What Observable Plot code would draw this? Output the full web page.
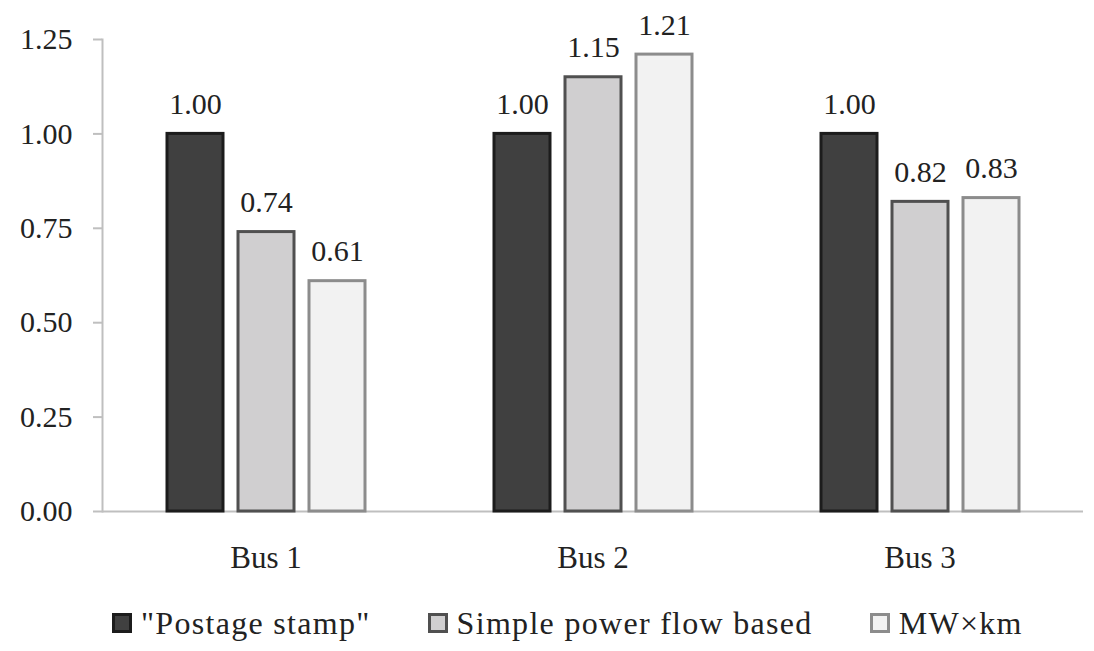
<!DOCTYPE html>
<html><head><meta charset="utf-8">
<script src="https://cdn.jsdelivr.net/npm/d3@7"></script>
<script src="https://cdn.jsdelivr.net/npm/@observablehq/plot@0.6"></script>
<style>
body{margin:0;background:#fff;font-family:"Liberation Serif",serif;color:#222;}
#legend{display:flex;align-items:center;height:50px;padding-left:112px;margin-top:8px;}
.item{display:flex;align-items:center;margin-right:57px;}
.sw{width:14px;height:14px;border:3px solid #000;margin-right:9px;}
.lab{font-size:32px;letter-spacing:1.3px;line-height:40px;}
</style>
</head><body><div id="chart"></div><div id="legend"></div>
<script>
const buses = ["Bus 1", "Bus 2", "Bus 3"];
const methods = ['"Postage stamp"', "Simple power flow based", "MW×km"];
const postage = [1.00, 1.00, 1.00];
const simpleFlow = [0.74, 1.15, 0.82];
const mwkm = [0.61, 1.21, 0.83];
const yTicks = [0, 0.25, 0.5, 0.75, 1, 1.25];
const fills = ["#404040", "#d0cfd0", "#f2f2f2"];
const strokes = ["#1c1c1c", "#505050", "#8c8c8c"];

const series = [postage, simpleFlow, mwkm];
const data = buses.flatMap((b, i) => methods.map((m, j) => ({bus: b, method: m, value: series[j][i]})));
const mi = d => methods.indexOf(d.method);

const chart = Plot.plot({
  width: 1094, height: 590,
  marginLeft: 101, marginRight: 11, marginTop: 39, marginBottom: 79,
  style: {fontFamily: "Liberation Serif", fontSize: "30px", color: "#222", background: "#fff"},
  fx: {domain: buses, padding: 0, label: null, axis: null},
  x: {domain: methods, paddingInner: 0.215, paddingOuter: 0.88, axis: null},
  y: {domain: [0, 1.25], axis: null},
  color: {type: "identity"},
  marks: [
    Plot.frame({anchor: "left", facet: "super", stroke: "#bfbfbf", strokeWidth: 2}),
    Plot.axisY({ticks: yTicks, tickFormat: d3.format(".2f"), tickSize: 9, tickPadding: 21,
      stroke: "#bfbfbf", strokeOpacity: 1, fill: "#222", strokeWidth: 2, label: null}),
    Plot.axisFx({anchor: "bottom", tickSize: 0, tickPadding: 34, label: null, fill: "#222", fontSize: 31}),
    Plot.ruleY([0], {stroke: "#bfbfbf", strokeWidth: 2}),
    Plot.barY(data, {fx: "bus", x: "method", y: "value",
      fill: d => fills[mi(d)], stroke: d => strokes[mi(d)], strokeWidth: 3}),
    Plot.text(data, {fx: "bus", x: "method", y: "value", text: d => d.value.toFixed(2),
      lineAnchor: "bottom", dy: -20, fontSize: 30, fill: "#222"})
  ]
});
document.getElementById("chart").appendChild(chart);

const legend = document.getElementById("legend");
methods.forEach((m, j) => {
  const it = document.createElement("div"); it.className = "item";
  const sw = document.createElement("div"); sw.className = "sw";
  sw.style.background = fills[j]; sw.style.borderColor = strokes[j];
  const lab = document.createElement("span"); lab.className = "lab"; lab.textContent = m;
  it.appendChild(sw); it.appendChild(lab); legend.appendChild(it);
});
</script>
</body></html>
